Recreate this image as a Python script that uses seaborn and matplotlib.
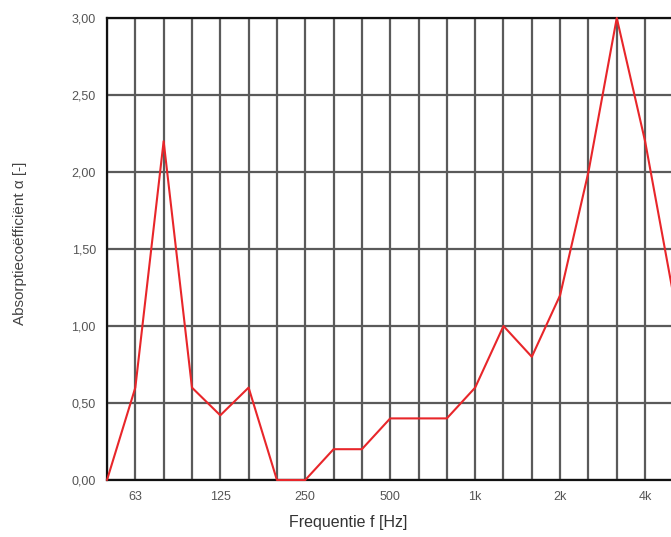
import matplotlib
matplotlib.use("Agg")
import matplotlib.pyplot as plt
import matplotlib.transforms as mtransforms
import seaborn as sns
import pandas as pd
import numpy as np

bands = ["50", "63", "80", "100", "125", "160", "200", "250", "315", "400", "500",
         "630", "800", "1k", "1.25k", "1.6k", "2k", "2.5k", "3.15k", "4k", "5k"]
alpha = [0.0, 0.6, 2.2, 0.6, 0.42, 0.6, 0.0, 0.0, 0.2, 0.2, 0.4,
         0.4, 0.4, 0.6, 1.0, 0.8, 1.2, 2.0, 3.0, 2.2, 1.2]
labelled = ["63", "125", "250", "500", "1k", "2k", "4k"]
yticks = [0.0, 0.5, 1.0, 1.5, 2.0, 2.5, 3.0]

df = pd.DataFrame({"pos": np.arange(len(bands)), "alpha": alpha})

sns.set_style("white")
plt.rcParams["font.family"] = ["Liberation Sans", "DejaVu Sans"]

W, H = 671, 537
fig = plt.figure(figsize=(W / 100, H / 100), dpi=100)
step = 28.32
left_px, top_px, bot_px = 107, 18, 480
ax = fig.add_axes([left_px / W, (H - bot_px) / H, 21 * step / W, (bot_px - top_px) / H])

sns.lineplot(data=df, x="pos", y="alpha", ax=ax, color="#e8262a", linewidth=1.5, zorder=5, clip_on=False)

ax.set_xlim(0, 21)
ax.set_ylim(0, 3.0)
ax.set_xticks(np.arange(len(bands)))
ax.set_xticklabels([b if b in labelled else "" for b in bands])
ax.set_yticks(yticks)
ax.set_yticklabels([f"{v:.2f}".replace(".", ",") for v in yticks])

ax.grid(True, color="#5a5a5a", linewidth=1.6, zorder=0)
ax.set_axisbelow(True)
for s in ["left", "bottom", "top"]:
    ax.spines[s].set_visible(True)
    ax.spines[s].set_color("#111111")
    ax.spines[s].set_linewidth(1.6)
ax.spines["right"].set_visible(False)

ax.tick_params(axis="both", colors="#222222", labelcolor="#555555", labelsize=9,
               length=4, width=1.4, direction="out", pad=4)
ax.tick_params(axis="x", pad=8, length=0)

ax.set_xlabel("Frequentie f [Hz]", fontsize=11.5, color="#333333")
ax.set_ylabel("Absorptiecoëfficiënt α [-]", fontsize=11, color="#444444")

fig_tr = fig.transFigure
ax.xaxis.set_label_coords(348 / W, (H - 523) / H, transform=fig_tr)
ax.xaxis.label.set_verticalalignment("center")
ax.yaxis.set_label_coords(20 / W, (H - 243) / H, transform=fig_tr)
ax.yaxis.label.set_verticalalignment("center")

fig.savefig("out.png", dpi=100)
